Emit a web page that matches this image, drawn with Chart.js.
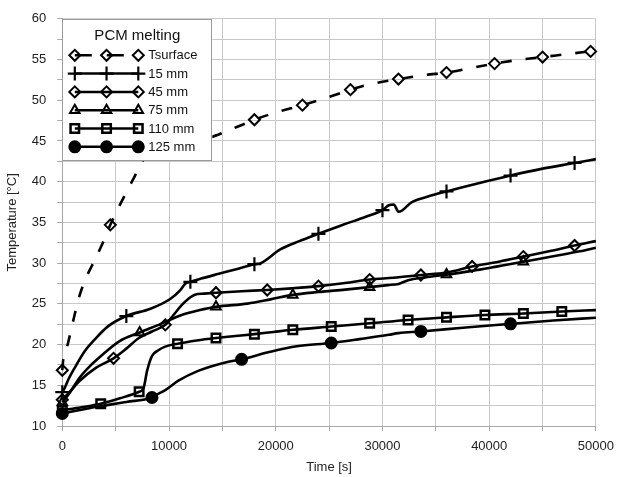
<!DOCTYPE html>
<html><head><meta charset="utf-8">
<script src="https://cdn.jsdelivr.net/npm/chart.js@4/dist/chart.umd.min.js"></script>
<style>html,body{margin:0;padding:0;background:#fff}canvas{display:block}</style>
</head><body>
<canvas id="c" width="622" height="477"></canvas>
<script>
// ---- text ----
const seriesNames = ['Tsurface', '15 mm', '45 mm', '75 mm', '110 mm', '125 mm'];
const legendTitle = 'PCM melting';
const xTitle = 'Time [s]';
const yTitle = 'Temperature [°C]';
const xTickLabels = [0, 10000, 20000, 30000, 40000, 50000];
const yTickLabels = [10, 15, 20, 25, 30, 35, 40, 45, 50, 55, 60];

// ---- data (time in s, temperature in °C) ----
const tsurfTime = [0, 100, 500, 1000, 1636, 2300, 2900, 3800, 4500, 5300, 6200, 7000, 7600, 8400, 9500, 11000, 12500, 14000, 15200, 16700, 18000, 20000, 22500, 25000, 27000, 29000, 31500, 34000, 36000, 38500, 40500, 43000, 45000, 47500, 49500, 50000];
const tsurfTemp = [16.85, 18.3, 20.0, 22.8, 26.1, 28.4, 30.0, 32.5, 34.7, 36.9, 39.2, 41.2, 42.7, 43.6, 44.2, 44.7, 45.1, 45.5, 46.1, 46.9, 47.6, 48.5, 49.4, 50.4, 51.3, 52.0, 52.6, 53.1, 53.4, 54.0, 54.5, 55.0, 55.3, 55.7, 56.0, 56.05];
const tsurfMarks = [0, 4500, 18000, 22500, 27000, 31500, 36000, 40500, 45000, 49500];

const mm15Time = [0, 250, 600, 1174, 2098, 3022, 4251, 6000, 8262, 10111, 11035, 11497, 12000, 13000, 14575, 16300, 18000, 18600, 20425, 22200, 24000, 26300, 28438, 30000, 30591, 31054, 31516, 32754, 34200, 36000, 39000, 42000, 45000, 48000, 50000];
const mm15Temp = [14.15, 14.75, 15.8, 17.17, 19.19, 20.6, 22.2, 23.5, 24.4, 25.6, 26.65, 27.45, 27.7, 28.1, 28.66, 29.25, 29.87, 30.0, 31.68, 32.7, 33.6, 34.7, 35.7, 36.5, 37.1, 37.2, 36.3, 37.5, 38.15, 38.8, 39.8, 40.75, 41.6, 42.3, 42.77];
const mm15Marks = [0, 6000, 12000, 18000, 24000, 30000, 36000, 42000, 48000];

const mm45Time = [0, 500, 1636, 3179, 4800, 6000, 7181, 8400, 9650, 10400, 11183, 11800, 12421, 13300, 14400, 16800, 19200, 21500, 24000, 26500, 28800, 31000, 33600, 36000, 38400, 41000, 43200, 45600, 48000, 50000];
const mm45Temp = [13.23, 13.9, 15.56, 17.17, 18.31, 19.5, 20.8, 21.6, 22.42, 23.6, 24.84, 25.6, 26.12, 26.25, 26.36, 26.55, 26.7, 26.9, 27.17, 27.55, 27.98, 28.2, 28.54, 28.85, 29.59, 30.2, 30.8, 31.45, 32.16, 32.7];
const mm45Marks = [0, 4800, 9650, 14400, 19200, 24000, 28800, 33600, 38400, 43200, 48000];

const mm75Time = [0, 600, 1636, 2700, 3789, 5333, 7250, 9030, 11183, 12800, 14400, 17347, 19500, 21600, 24000, 26500, 28800, 30500, 31500, 32400, 34000, 36000, 38400, 40800, 43200, 46000, 48500, 50000];
const mm75Temp = [12.9, 13.9, 15.96, 17.5, 18.79, 20.4, 21.49, 22.42, 23.63, 24.2, 24.63, 25.03, 25.55, 26.1, 26.45, 26.75, 27.05, 27.3, 27.45, 27.9, 28.25, 28.59, 29.05, 29.6, 30.16, 30.85, 31.45, 31.89];
const mm75Marks = [0, 7250, 14400, 21600, 28800, 36000, 43200];

const mm110Time = [0, 1800, 3600, 5400, 7200, 7600, 7950, 8410, 9000, 9650, 10800, 12600, 14400, 16200, 18000, 19800, 21600, 25200, 28800, 32400, 36000, 39600, 43200, 46800, 50000];
const mm110Temp = [11.93, 12.3, 12.74, 13.4, 14.2, 14.6, 16.8, 18.6, 19.3, 19.75, 20.1, 20.5, 20.8, 21.05, 21.28, 21.55, 21.81, 22.21, 22.61, 23.02, 23.34, 23.63, 23.82, 24.06, 24.23];
const mm110Marks = [0, 3600, 7200, 10800, 14400, 18000, 21600, 25200, 28800, 32400, 36000, 39600, 43200, 46800];

const mm125Time = [0, 3500, 6000, 8400, 9000, 9650, 10878, 12726, 15194, 16800, 19300, 21968, 25200, 28000, 30591, 31500, 33600, 37800, 42000, 46000, 50000];
const mm125Temp = [11.55, 12.42, 12.95, 13.5, 13.95, 14.4, 15.56, 16.77, 17.78, 18.19, 19.05, 19.79, 20.19, 20.7, 21.2, 21.4, 21.61, 22.1, 22.54, 22.95, 23.3];
const mm125Marks = [0, 8400, 16800, 25200, 33600, 42000];

// ---- styles ----
const FONT = '"Liberation Sans", Arial, Helvetica, sans-serif';
const styles = [
  { pointStyle: 'rectRot', radius: 5.5, fill: 'rgba(0,0,0,0)', dash: [11, 14], bw: 2 },
  { pointStyle: 'cross', radius: 7, fill: 'rgba(0,0,0,0)', dash: [], bw: 2.2 },
  { pointStyle: 'rectRot', radius: 5.5, fill: 'rgba(0,0,0,0)', dash: [], bw: 2 },
  { pointStyle: 'triangle', radius: 5.5, fill: 'rgba(0,0,0,0)', dash: [], bw: 2 },
  { pointStyle: 'rect', radius: 6, fill: 'rgba(0,0,0,0)', dash: [], bw: 2.5 },
  { pointStyle: 'circle', radius: 5.5, fill: '#000', dash: [], bw: 2 }
];

const seriesTimes = [tsurfTime, mm15Time, mm45Time, mm75Time, mm110Time, mm125Time];
const seriesTemps = [tsurfTemp, mm15Temp, mm45Temp, mm75Temp, mm110Temp, mm125Temp];
const seriesMarks = [tsurfMarks, mm15Marks, mm45Marks, mm75Marks, mm110Marks, mm125Marks];

const datasets = seriesNames.map((name, k) => {
  const st = styles[k];
  const marks = seriesMarks[k];
  return {
    label: name,
    data: seriesTimes[k].map((t, i) => ({ x: t, y: seriesTemps[k][i] })),
    borderColor: '#000',
    borderWidth: 2.6,
    borderDash: st.dash,
    cubicInterpolationMode: 'monotone',
    pointStyle: st.pointStyle,
    pointRadius: (c) => (c.raw && marks.includes(c.raw.x)) ? st.radius : 0,
    pointHoverRadius: 0,
    pointBorderColor: '#000',
    pointBackgroundColor: st.fill,
    pointBorderWidth: st.bw,
    clip: false
  };
});

function drawMarker(ctx, st, x, y) {
  ctx.save();
  ctx.setLineDash([]);
  ctx.strokeStyle = '#000';
  ctx.fillStyle = st.fill;
  ctx.lineWidth = st.bw;
  if (Chart.helpers && Chart.helpers.drawPoint) {
    Chart.helpers.drawPoint(ctx, { pointStyle: st.pointStyle, rotation: 0, radius: st.radius, borderWidth: st.bw }, x, y);
  }
  ctx.restore();
}

const boxLegend = {
  id: 'boxLegend',
  afterDraw(chart) {
    const ctx = chart.ctx, a = chart.chartArea;
    const x0 = a.left, y0 = a.top, w = 150, h = 142;
    ctx.save();
    ctx.fillStyle = '#fff';
    ctx.fillRect(x0, y0, w, h);
    ctx.strokeStyle = '#9a9a9a';
    ctx.lineWidth = 1;
    ctx.strokeRect(Math.round(x0) + 0.5, Math.round(y0) + 0.5, w - 1, h - 1);
    ctx.fillStyle = '#111';
    ctx.textAlign = 'center';
    ctx.textBaseline = 'middle';
    ctx.font = '15px ' + FONT;
    ctx.fillText(legendTitle, x0 + 75, y0 + 17.5);
    ctx.font = '13px ' + FONT;
    ctx.textAlign = 'left';
    seriesNames.forEach((name, k) => {
      const st = styles[k];
      const y = y0 + 36.5 + k * 18.3;
      const xa = x0 + 12.5, xb = x0 + 76;
      ctx.save();
      ctx.strokeStyle = '#000';
      ctx.lineWidth = 2.5;
      ctx.setLineDash(k === 0 ? [17, 15] : []);
      ctx.beginPath();
      ctx.moveTo(xa, y);
      ctx.lineTo(xb, y);
      ctx.stroke();
      ctx.restore();
      [xa, (xa + xb) / 2, xb].forEach(px => drawMarker(ctx, st, px, y));
      ctx.fillStyle = '#111';
      ctx.fillText(name, x0 + 86, y + 0.5);
    });
    ctx.restore();
  }
};

new Chart(document.getElementById('c'), {
  type: 'line',
  data: { datasets },
  options: {
    responsive: false,
    animation: false,
    events: [],
    layout: { padding: { top: 13, right: 18.7, left: 0, bottom: 0 } },
    plugins: { legend: { display: false }, tooltip: { enabled: false } },
    scales: {
      x: {
        type: 'linear',
        min: 0, max: 50000,
        afterFit: (s) => { s.height = 51; },
        grid: { color: '#c8c8c8', lineWidth: 1, tickLength: 5, tickColor: '#a8a8a8' },
        border: { color: '#a8a8a8', width: 1 },
        ticks: {
          stepSize: 5000, autoSkip: false, maxRotation: 0, padding: 8,
          color: '#222', font: { family: FONT, size: 13 },
          callback: (v) => xTickLabels.includes(v) ? String(v) : ''
        },
        title: { display: true, text: xTitle, color: '#222', font: { family: FONT, size: 13 }, padding: { top: 0, bottom: 2 } }
      },
      y: {
        type: 'linear',
        min: 10, max: 60,
        afterFit: (s) => { s.width = 62.3; },
        grid: { color: '#c8c8c8', lineWidth: 1, tickLength: 5, tickColor: '#a8a8a8' },
        border: { color: '#a8a8a8', width: 1 },
        ticks: {
          stepSize: 2.5, autoSkip: false, padding: 11,
          color: '#222', font: { family: FONT, size: 13 },
          callback: (v) => yTickLabels.includes(v) ? String(v) : ''
        },
        title: { display: true, text: yTitle, color: '#222', font: { family: FONT, size: 13 }, padding: { top: 5, bottom: 0 } }
      }
    }
  },
  plugins: [boxLegend]
});
</script>
</body></html>
